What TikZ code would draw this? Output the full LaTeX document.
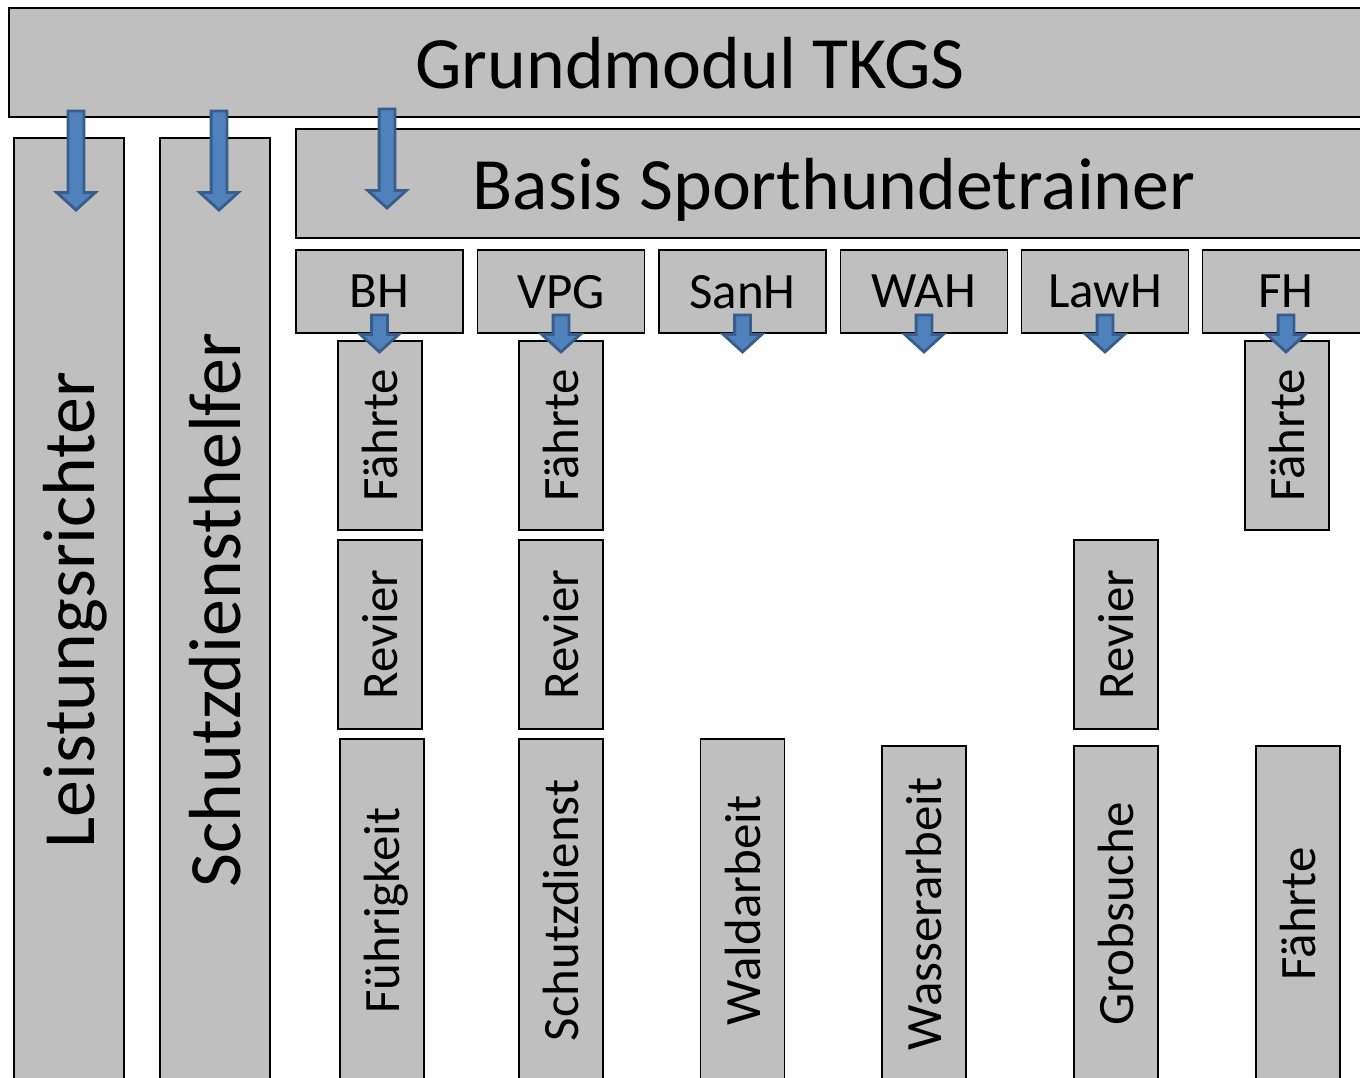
\documentclass[tikz,border=0pt]{standalone}
\usepackage{fontspec}
\setmainfont{Carlito}
\usetikzlibrary{calc}
\definecolor{boxgray}{HTML}{BFBFBF}
\definecolor{arrowfill}{HTML}{4F81BD}
\definecolor{arrowline}{HTML}{385D8A}
\newcommand{\pxu}{0.02cm}
\newcommand{\bigfont}{\fontsize{42}{50}\selectfont}
\newcommand{\smallfont}{\fontsize{29}{35}\selectfont}

\tikzset{
  modul/.style = {draw = black, fill = boxgray, line width = 1.1pt,
    inner sep = 0pt, text depth = 0pt, font = \smallfont},
  big/.style = {font = \bigfont},
  blockarrow/.style = {draw = arrowline, fill = arrowfill, line width = 1.6pt,
    to path = {let \p1 = (\tikztostart), \p2 = (\tikztotarget) in
      (\x1-4.5pt, \y1) -- (\x1+4.5pt, \y1) -- (\x1+4.5pt, \y2+10pt)
      -- (\x1+11pt, \y2+10pt) -- (\x1, \y2) -- (\x1-11pt, \y2+10pt)
      -- (\x1-4.5pt, \y2+10pt) -- cycle}}
}

\begin{document}
\begin{tikzpicture}[x = 0.02cm, y = -0.02cm, line join = miter]
  \useasboundingbox (0, 0) rectangle (1360, 1078);
  \clip (0, 0) rectangle (1360, 1078);

  % top rows
  \node[modul, big, minimum width = 1362*\pxu, minimum height = 109*\pxu]
    (grund) at (690, 62.5) {Grundmodul TKGS};
  \node[modul, big, minimum width = 1076*\pxu, minimum height = 109*\pxu]
    (basis) at (834, 183.5) {Basis Sporthundetrainer};

  % left columns (rotated: east is the top end)
  \node[modul, big, rotate = 90, minimum width = 944*\pxu,
    minimum height = 110*\pxu] (leist) at (69, 610) {Leistungsrichter};
  \node[modul, big, rotate = 90, minimum width = 944*\pxu,
    minimum height = 110*\pxu] (schutzh) at (215, 610) {Schutzdiensthelfer};

  % modules
  \foreach \name/\txt/\x in {bh/BH/379.5, vpg/VPG/561, sanh/SanH/742.5,
    wah/WAH/924, lawh/LawH/1105, fh/FH/1286}
    \node[modul, minimum width = 167*\pxu, minimum height = 83*\pxu]
      (\name) at (\x, 291.5) {\txt};

  \foreach \name/\x in {bhf/380, vpgf/561, fhf/1287}
    \node[modul, rotate = 90, minimum width = 189*\pxu,
      minimum height = 84*\pxu] (\name) at (\x, 435.5) {Fährte};

  \foreach \name/\x in {bhr/380, vpgr/561, lawhr/1116}
    \node[modul, rotate = 90, minimum width = 189*\pxu,
      minimum height = 84*\pxu] (\name) at (\x, 634.5) {Revier};

  \foreach \name/\txt/\x/\y in {fuehr/Führigkeit/382/739,
    schutzd/Schutzdienst/561/739, wald/Waldarbeit/742.5/739,
    wasser/Wasserarbeit/924/746, grob/Grobsuche/1116/746,
    faehrte/Fährte/1298/746}
    \node[modul, rotate = 90, minimum width = {(1082-\y)*\pxu},
      minimum height = 84*\pxu] (\name) at (\x, {(1082+\y)/2}) {\txt};

  % arrows
  \draw[blockarrow] ($(grund.south -| leist.east) + (7, -7)$)
    to ($(leist.east) + (7, 73)$);
  \draw[blockarrow] ($(grund.south -| schutzh.east) + (4, -7)$)
    to ($(schutzh.east) + (4, 73)$);
  \draw[blockarrow] ($(grund.south -| basis.west) + (92, -9)$)
    to ($(basis.north west) + (92, 80)$);

  \foreach \name in {bh, vpg, sanh, wah, lawh, fh}
    \draw[blockarrow] ($(\name.south) + (0, -19)$) to ($(\name.south) + (0, 18)$);
\end{tikzpicture}
\end{document}
